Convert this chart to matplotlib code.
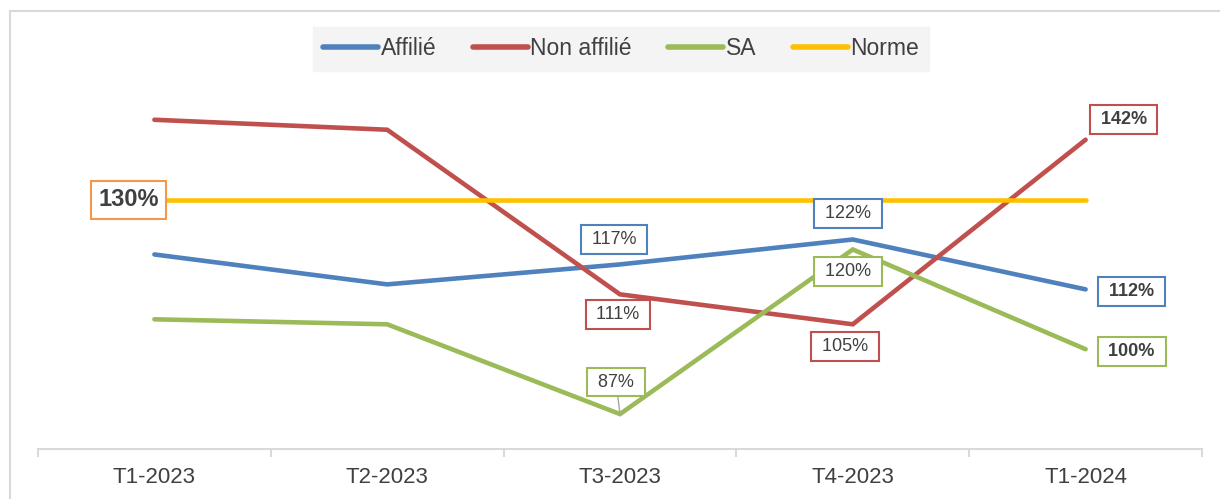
import numpy as np
import matplotlib.pyplot as plt
from matplotlib.lines import Line2D

plt.rcParams['font.family'] = ['Liberation Sans', 'DejaVu Sans']

# Data
periods = ['T1-2023', 'T2-2023', 'T3-2023', 'T4-2023', 'T1-2024']
affilie = [119, 113, 117, 122, 112]
non_affilie = [146, 144, 111, 105, 142]
sa = [106, 105, 87, 120, 100]
norme = [130, 130, 130, 130, 130]

series_names = ['Affilié', 'Non affilié', 'SA', 'Norme']
colors = {'Affilié': '#4F81BD', 'Non affilié': '#C0504D',
          'SA': '#9BBB59', 'Norme': '#FFC000'}
text_color = '#404040'

W, H = 1220, 499
fig = plt.figure(figsize=(W / 100, H / 100), dpi=100)
ax = fig.add_axes([38 / W, (H - 449) / H, (1202 - 38) / W, (449 - 20) / H])

x = np.arange(len(periods))
for name, vals in zip(series_names, [affilie, non_affilie, sa, norme]):
    ax.plot(x, vals, color=colors[name], lw=3.3, solid_capstyle='round',
            solid_joinstyle='miter', zorder=3)

ax.set_xlim(-0.5, len(periods) - 0.5)
ax.set_ylim(80, 166)

# axes look
for s in ['top', 'right', 'left']:
    ax.spines[s].set_visible(False)
ax.spines['bottom'].set_color('#D9D9D9')
ax.spines['bottom'].set_linewidth(1.5)
ax.set_yticks([])
ax.set_xticks(np.arange(-0.5, len(periods), 1.0))
ax.set_xticklabels([])
ax.set_xticks(x, minor=True)
ax.set_xticklabels(periods, minor=True, fontsize=16, color=text_color)
ax.tick_params(axis='x', which='major', length=6, color='#D9D9D9', width=1.5)
ax.tick_params(axis='x', which='minor', length=0, pad=13)


def label(xi, yi, txt, color, dx, dy, size=13, weight='normal', arrow=False,
          padded=True):
    kw = {}
    if arrow:
        kw['arrowprops'] = dict(arrowstyle='-', color='#A6A6A6', lw=1,
                                shrinkA=0, shrinkB=0)
    shown = f' {txt} ' if padded else txt
    ax.annotate(shown, (xi, yi), xytext=(dx, dy), textcoords='offset pixels',
                ha='center', va='center', fontsize=size, fontweight=weight,
                color=text_color, zorder=5,
                bbox=dict(boxstyle='square,pad=0.32', fc='white', ec=color, lw=1.5),
                **kw)


def pct(v):
    return f'{v}%'


label(0, norme[0], pct(norme[0]), '#F79646', -26, 0, size=17, weight='bold',
      padded=False)
label(2, affilie[2], pct(affilie[2]), colors['Affilié'], -6, 25)
label(3, affilie[3], pct(affilie[3]), colors['Affilié'], -5, 26)
label(4, affilie[4], pct(affilie[4]), colors['Affilié'], 46, -2, weight='bold')
label(2, non_affilie[2], pct(non_affilie[2]), colors['Non affilié'], -2, -20)
label(3, non_affilie[3], pct(non_affilie[3]), colors['Non affilié'], -8, -22)
label(4, non_affilie[4], pct(non_affilie[4]), colors['Non affilié'], 38, 20, weight='bold')
label(2, sa[2], pct(sa[2]), colors['SA'], -4, 32, arrow=True)
label(3, sa[3], pct(sa[3]), colors['SA'], -5, -22)
label(4, sa[4], pct(sa[4]), colors['SA'], 46, -2, weight='bold')

handles = [Line2D([0], [0], color=colors[n], lw=4, solid_capstyle='round')
           for n in series_names]
leg = ax.legend(handles, series_names, loc='upper center', ncol=4,
                bbox_to_anchor=(621 / W, 1 - 27 / H), bbox_transform=fig.transFigure,
                borderaxespad=0, fontsize=16.5, frameon=True, fancybox=False,
                handlelength=2.4, handletextpad=0.1, columnspacing=1.6,
                borderpad=0.45)
leg.get_frame().set_facecolor('#F2F2F2')
leg.get_frame().set_edgecolor('#F2F2F2')
for t in leg.get_texts():
    t.set_color(text_color)

# chart area border (left and top)
fig.add_artist(Line2D([10 / W, 10 / W], [0, 1 - 11 / H], color='#D9D9D9', lw=1.5,
                      transform=fig.transFigure))
fig.add_artist(Line2D([10 / W, 1], [1 - 11 / H, 1 - 11 / H], color='#D9D9D9', lw=1.5,
                      transform=fig.transFigure))

fig.savefig('out.png', dpi=100)
